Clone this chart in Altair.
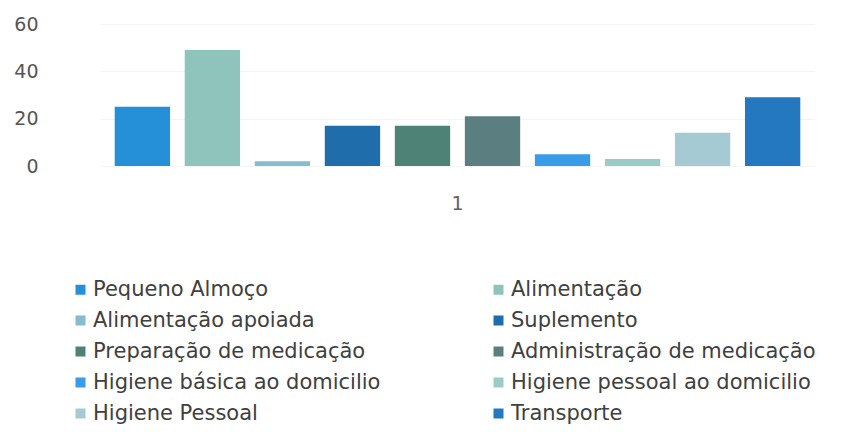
import altair as alt
import pandas as pd

series = ["Pequeno Almoço", "Alimentação", "Alimentação apoiada", "Suplemento",
          "Preparação de medicação", "Administração de medicação",
          "Higiene básica ao domicilio", "Higiene pessoal ao domicilio",
          "Higiene Pessoal", "Transporte"]
values = [25, 49, 2, 17, 17, 21, 5, 3, 14, 29]
category = "1"
colors = ["#2590D8", "#8FC4BC", "#86BBD0", "#1F6DAA", "#4E8277",
          "#5B7F80", "#3A9BE8", "#9ACBC6", "#A5CAD3", "#2378C0"]
y_ticks = [0, 20, 40, 60]

df = pd.DataFrame({"cat": [category] * len(series), "series": series, "value": values})

FONT = "DejaVu Sans"

chart = alt.Chart(df).mark_bar().encode(
    x=alt.X("cat:N", title=None,
            scale=alt.Scale(paddingInner=0, paddingOuter=0),
            axis=alt.Axis(labelAngle=0, labelFontSize=19, labelColor="#606060",
                          labelFont=FONT, ticks=False, domain=False, labelPadding=28)),
    xOffset=alt.XOffset("series:N", sort=series,
                        scale=alt.Scale(paddingInner=0.21, paddingOuter=0.21)),
    y=alt.Y("value:Q", title=None,
            scale=alt.Scale(domain=[0, 60], nice=False),
            axis=alt.Axis(values=y_ticks, labelFontSize=19, labelColor="#555555",
                          labelFont=FONT, ticks=False, domain=False, labelPadding=62,
                          gridColor="#f4f4f4")),
    color=alt.Color("series:N", sort=series,
                    scale=alt.Scale(domain=series, range=colors),
                    legend=alt.Legend(title=None, orient="none", legendX=-30, legendY=255,
                                      direction="horizontal",
                                      columns=2, columnPadding=107, rowPadding=9,
                                      symbolType="square", symbolSize=100,
                                      symbolStrokeWidth=0, labelFontSize=21,
                                      labelFont=FONT, labelColor="#404040",
                                      labelOffset=2, labelLimit=400)),
).properties(
    width=715, height=142,
    padding={"left": 92, "top": 16, "right": 22, "bottom": 262},
    autosize=alt.AutoSizeParams(type="none"),
    background="white",
).configure_view(stroke=None)

chart.save("out.html", embed_options={"renderer": "svg", "actions": False})
